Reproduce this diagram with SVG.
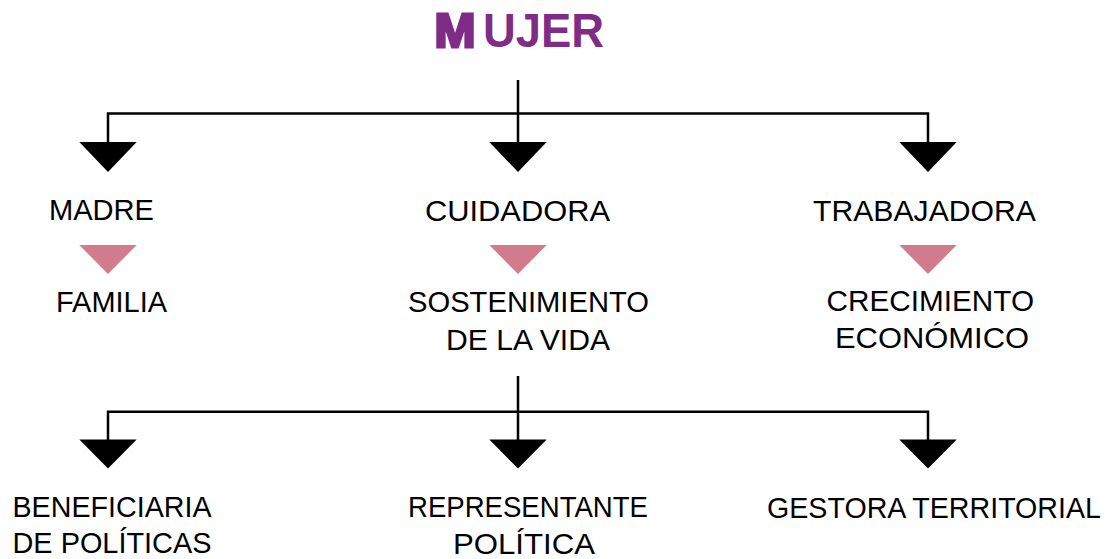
<svg xmlns="http://www.w3.org/2000/svg" width="1112" height="559" viewBox="0 0 1112 559">
  <style>
    .lbl { font-family: "Liberation Sans", Arial, sans-serif; font-size: 29px; fill: #000; }
    .lbl2 { font-family: "Liberation Sans", Arial, sans-serif; font-size: 29.5px; fill: #000; }
    .title { font-family: "Liberation Sans", Arial, sans-serif; font-weight: bold; font-size: 48px; fill: #7F2C87; }
    .line { fill: none; stroke: #000; stroke-width: 2.5; }
    .arrow { fill: #000; }
    .pink { fill: #D27B8C; }
  </style>
  <rect width="1112" height="559" fill="#fff"/>

  <g id="connectors">
    <path class="line" d="M518,80 V113.5 M108,143 V113.5 H928 V143 M518,113.5 V143"/>
    <polygon class="arrow" points="79.3,142 136.7,142 108,172"/>
    <polygon class="arrow" points="489.3,142 546.7,142 518,172"/>
    <polygon class="arrow" points="899.3,142 956.7,142 928,172"/>
    <polygon class="pink" points="79.3,245 136.7,245 108,274"/>
    <polygon class="pink" points="489.3,245 546.7,245 518,274"/>
    <polygon class="pink" points="899.3,245 956.7,245 928,274"/>
    <path class="line" d="M518,376 V440 M108,440 V411.7 H928 V440"/>
    <polygon class="arrow" points="79.3,439.5 136.7,439.5 108,468.5"/>
    <polygon class="arrow" points="489.3,439.5 546.7,439.5 518,468.5"/>
    <polygon class="arrow" points="899.3,439.5 956.7,439.5 928,468.5"/>
  </g>

  <g id="mujer">
    <text class="title" x="434.5" y="46.5" textLength="41" lengthAdjust="spacingAndGlyphs" stroke="#7F2C87" stroke-width="3">M</text>
    <text class="title" x="483" y="46.5" textLength="121" lengthAdjust="spacingAndGlyphs">UJER</text>
  </g>

  <g id="madre">
    <text class="lbl" x="49" y="220" textLength="105" lengthAdjust="spacingAndGlyphs">MADRE</text>
  </g>
  <g id="cuidadora">
    <text class="lbl" x="425" y="220.5" textLength="185" lengthAdjust="spacingAndGlyphs">CUIDADORA</text>
  </g>
  <g id="trabajadora">
    <text class="lbl" x="813" y="220.5" textLength="223" lengthAdjust="spacingAndGlyphs">TRABAJADORA</text>
  </g>

  <g id="familia">
    <text class="lbl" x="56" y="311.5" textLength="111" lengthAdjust="spacingAndGlyphs">FAMILIA</text>
  </g>
  <g id="sostenimiento">
    <text class="lbl" x="408" y="311.5" textLength="241" lengthAdjust="spacingAndGlyphs">SOSTENIMIENTO</text>
    <text class="lbl" x="446" y="350" textLength="164" lengthAdjust="spacingAndGlyphs">DE LA VIDA</text>
  </g>
  <g id="crecimiento">
    <text class="lbl" x="826.5" y="310.5" textLength="207.5" lengthAdjust="spacingAndGlyphs">CRECIMIENTO</text>
    <text class="lbl" x="835" y="347.5" textLength="194" lengthAdjust="spacingAndGlyphs">ECONÓMICO</text>
  </g>

  <g id="beneficiaria">
    <text class="lbl2" x="12.5" y="516.5" textLength="199" lengthAdjust="spacingAndGlyphs">BENEFICIARIA</text>
    <text class="lbl2" x="12.5" y="553.3" textLength="199" lengthAdjust="spacingAndGlyphs">DE POLÍTICAS</text>
  </g>
  <g id="representante">
    <text class="lbl2" x="408" y="516.7" textLength="240" lengthAdjust="spacingAndGlyphs">REPRESENTANTE</text>
    <text class="lbl2" x="453" y="554" textLength="142" lengthAdjust="spacingAndGlyphs">POLÍTICA</text>
  </g>
  <g id="gestora">
    <text class="lbl2" x="767" y="518" textLength="334" lengthAdjust="spacingAndGlyphs">GESTORA TERRITORIAL</text>
  </g>
</svg>
